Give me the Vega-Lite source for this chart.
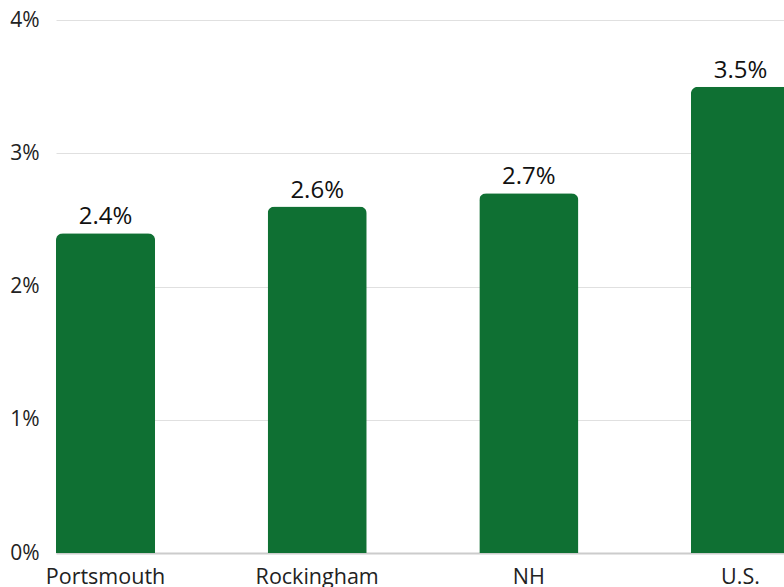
{
  "$schema": "https://vega.github.io/schema/vega-lite/v6.json",
  "autosize": {"type": "none"},
  "width": 728,
  "height": 533,
  "padding": {"left": 56, "top": 20, "right": 0, "bottom": 34},
  "background": "white",
  "config": {"view": {"stroke": null}, "font": "Open Sans"},
  "data": {"values": [
    {"region": "Portsmouth", "rate": 0.024},
    {"region": "Rockingham", "rate": 0.026},
    {"region": "NH", "rate": 0.027},
    {"region": "U.S.", "rate": 0.035}
  ]},
  "encoding": {
    "x": {"field": "region", "type": "nominal", "sort": null,
      "scale": {"range": [0, 734], "paddingInner": 0.532, "paddingOuter": 0},
      "axis": {"title": null, "labelAngle": 0, "labelFontSize": 21.5, "labelColor": "#222222", "labelPadding": 13, "ticks": false, "domainColor": "#cccccc", "domainWidth": 2, "labelFont": "Open Sans"}},
    "y": {"field": "rate", "type": "quantitative",
      "scale": {"domain": [0, 0.04]},
      "axis": {"title": null, "format": ".0%", "values": [0, 0.01, 0.02, 0.03, 0.04], "labelFontSize": 21, "labelColor": "#222222", "labelPadding": 17, "ticks": false, "domain": false, "gridColor": "#e0e0e0", "gridWidth": 1, "labelFont": "Open Sans"}}
  },
  "layer": [
    {"mark": {"type": "bar", "color": "#0f7033", "cornerRadiusTopLeft": 7, "cornerRadiusTopRight": 7}},
    {"mark": {"type": "text", "dy": -16, "fontSize": 24, "color": "#111111", "font": "Open Sans"},
      "encoding": {"text": {"field": "rate", "type": "quantitative", "format": ".1%"}}}
  ]
}
